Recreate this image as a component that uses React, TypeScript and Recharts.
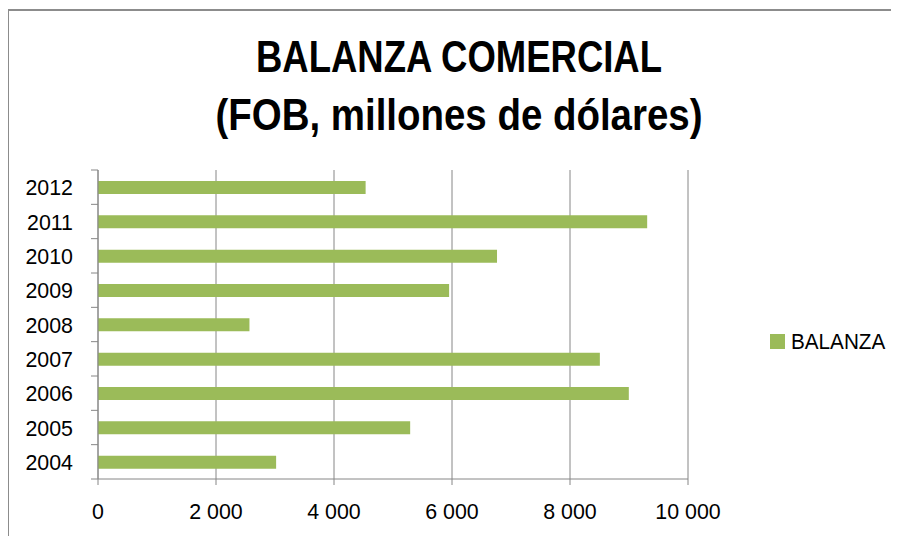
import React from 'react';
import { BarChart, Bar, XAxis, YAxis, CartesianGrid } from 'recharts';

const years = ['2004', '2005', '2006', '2007', '2008', '2009', '2010', '2011', '2012'];
const balanza = [3019, 5291, 8997, 8506, 2567, 5951, 6763, 9308, 4536];
const xTicks = [0, 2000, 4000, 6000, 8000, 10000];
const seriesName = 'BALANZA';
const titleLines = ['BALANZA COMERCIAL', '(FOB, millones de dólares)'];

const data = years.map((y, i) => ({ year: y, value: balanza[i] }));

const FONT = "'Liberation Sans', Arial, sans-serif";
const GREEN = '#9BBB59';
const GREY = '#868686';

const CH_W = 892;
const CH_H = 520;
const MARGIN = { top: 161, right: 211, bottom: 20, left: 11 };
const Y_W = 80;
const X_H = 30;
const PLOT_H = CH_H - MARGIN.top - MARGIN.bottom - X_H;
const BAND = PLOT_H / years.length;
const LABEL_GAP = 25;
const TICK_FS = 23;
const TICK_SX = 0.93;

const TITLE_STYLE = [
  { y: 72, len: 406 },
  { y: 130, len: 487 },
];

const fmt = (v: number) => String(v).replace(/\B(?=(\d{3})+(?!\d))/g, ' ');

const YTick = (props: any) => {
  const { x, y, payload, index } = props;
  const axisX = x + LABEL_GAP;
  return (
    <g>
      <text
        transform={`translate(${x},${y}) scale(${TICK_SX},1)`}
        dy="0.36em"
        textAnchor="end"
        fontSize={TICK_FS}
        fill="#000"
        fontFamily={FONT}
      >
        {payload.value}
      </text>
      <line x1={axisX - 7} x2={axisX} y1={y - BAND / 2} y2={y - BAND / 2} stroke={GREY} strokeWidth={1} />
      {index === 0 && (
        <line x1={axisX - 7} x2={axisX} y1={y + BAND / 2} y2={y + BAND / 2} stroke={GREY} strokeWidth={1} />
      )}
    </g>
  );
};

const XTick = (props: any) => {
  const { x, y, payload } = props;
  return (
    <text
      transform={`translate(${x},${y}) scale(${TICK_SX},1)`}
      dy="0.71em"
      textAnchor="middle"
      fontSize={TICK_FS}
      fill="#000"
      fontFamily={FONT}
    >
      {fmt(payload.value)}
    </text>
  );
};

export default function App() {
  return (
    <div
      style={{
        position: 'relative',
        left: -1,
        top: 1,
        width: 930,
        height: 560,
        boxSizing: 'border-box',
        borderLeft: '2px solid #8c8c8c',
        borderTop: '2px solid #8c8c8c',
        background: '#fff',
        fontFamily: FONT,
      }}
    >
      <style>{'html,body{overflow:hidden;}'}</style>
      <svg width={899} height={150} style={{ position: 'absolute', left: -9, top: -11 }}>
        {titleLines.map((t, i) => (
          <text
            key={t}
            x={459}
            y={TITLE_STYLE[i].y}
            textAnchor="middle"
            fontFamily={FONT}
            fontWeight="bold"
            fontSize={44}
            fill="#000"
            textLength={TITLE_STYLE[i].len}
            lengthAdjust="spacingAndGlyphs"
          >
            {t}
          </text>
        ))}
      </svg>
      <div style={{ position: 'absolute', left: -2, top: -2 }}>
        <BarChart width={CH_W} height={CH_H} data={data} layout="vertical" margin={MARGIN}>
          <CartesianGrid horizontal={false} vertical={true} stroke={GREY} strokeWidth={1} />
          <XAxis
            type="number"
            domain={[0, 10000]}
            ticks={xTicks}
            height={X_H}
            tickSize={6}
            tickMargin={18}
            stroke={GREY}
            tick={<XTick />}
          />
          <YAxis
            type="category"
            dataKey="year"
            reversed
            width={Y_W}
            tickLine={false}
            tickSize={0}
            tickMargin={LABEL_GAP}
            stroke={GREY}
            tick={<YTick />}
            interval={0}
          />
          <Bar dataKey="value" name={seriesName} fill={GREEN} barSize={13} isAnimationActive={false} />
        </BarChart>
      </div>
      <div
        style={{
          position: 'absolute',
          left: 761,
          top: 326.5 - 11,
          height: 30,
          display: 'flex',
          alignItems: 'center',
          gap: 6,
          fontSize: 22,
          color: '#000',
        }}
      >
        <div style={{ width: 15, height: 15, background: GREEN }} />
        <span style={{ display: 'inline-block', transform: 'scaleX(0.94)', transformOrigin: 'left center' }}>
          {seriesName}
        </span>
      </div>
    </div>
  );
}
